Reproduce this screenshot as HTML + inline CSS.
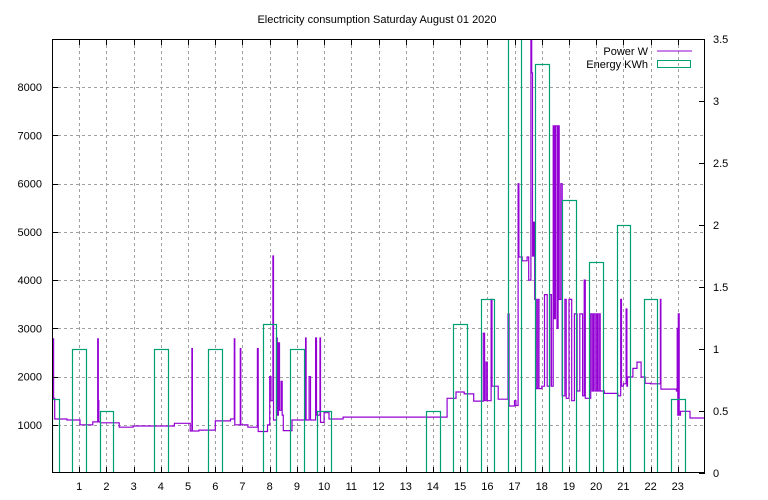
<!DOCTYPE html>
<html><head><meta charset="utf-8"><style>
html,body{margin:0;padding:0;background:#fff;}
svg{display:block;font-family:"Liberation Sans","DejaVu Sans",sans-serif;font-size:11px;}
</style></head><body>
<svg id="chart" width="768" height="500" viewBox="0 0 768 500" xmlns="http://www.w3.org/2000/svg">
<rect width="768" height="500" fill="#fff"/>
<text x="377" y="23" text-anchor="middle">Electricity consumption Saturday August 01 2020</text>
<g id="grid"></g>
<defs><clipPath id="plotclip"><rect x="52" y="39" width="653" height="434"/></clipPath></defs>
<g id="power" clip-path="url(#plotclip)"></g>
<g id="energy" clip-path="url(#plotclip)"></g>
<rect x="52.5" y="39.5" width="652" height="433" fill="none" stroke="#000" stroke-width="1"/>
<g id="axes"></g>
<g>
<text x="648" y="55" text-anchor="end">Power W</text>
<line x1="657" y1="51" x2="692" y2="51" stroke="#9400d3" stroke-width="1"/>
<text x="648" y="68" text-anchor="end">Energy KWh</text>
<rect x="657.5" y="60.5" width="33" height="7" fill="none" stroke="#009e73" stroke-width="1"/>
</g>
</svg>
<script>
const xTicks = [1,2,3,4,5,6,7,8,9,10,11,12,13,14,15,16,17,18,19,20,21,22,23];
const yTicks = [1000,2000,3000,4000,5000,6000,7000,8000];
const y2Ticks = [0,0.5,1,1.5,2,2.5,3,3.5];
const y2Labels = ["0","0.5","1","1.5","2","2.5","3","3.5"];
const energyHours = [0,1,2,4,6,8,9,10,14,15,16,17,18,19,20,21,22,23];
const energyKWh = [0.6,1.0,0.5,1.0,1.0,1.2,1.0,0.5,0.5,1.2,1.4,3.7,3.3,2.2,1.7,2.0,1.4,0.6];
const powerTimes = [
0,0.04,0.06,0.10,0.55,1.03,1.50,1.68,1.70,1.72,
1.78,2.47,2.98,4.50,5.08,5.14,5.16,5.40,6.00,6.56,
6.70,6.72,6.92,6.94,7.20,7.55,7.58,7.92,8.00,8.05,
8.12,8.14,8.25,8.28,8.32,8.36,8.42,8.46,8.50,8.82,
9.32,9.34,9.45,9.50,9.69,9.72,9.85,9.87,10.00,10.18,
10.70,14.52,14.85,15.15,15.50,15.85,15.90,15.95,16.00,16.14,
16.17,16.40,16.76,16.80,17.00,17.05,17.13,17.16,17.28,17.46,
17.52,17.60,17.63,17.66,17.70,17.74,17.80,17.85,17.90,18.00,
18.10,18.20,18.30,18.36,18.42,18.46,18.50,18.56,18.60,18.64,
18.70,18.75,18.85,18.90,19.00,19.10,19.20,19.30,19.40,19.50,
19.56,19.60,19.80,19.85,19.90,19.95,20.00,20.05,20.10,20.15,
20.30,20.80,20.90,20.93,21.00,21.10,21.13,21.15,21.35,21.50,
21.65,21.80,22.00,22.36,22.38,22.95,22.98,23.00,23.02,23.05,
23.10,23.45];
const powerWatts = [
1550,2780,1550,1120,1100,1000,1060,2780,1500,1060,
1040,950,975,1030,870,2580,870,890,1080,1120,
2780,1000,2580,1000,950,2580,860,1000,2000,1500,
4500,1100,2800,1200,2700,1300,1900,1200,880,1100,
2800,1100,2000,1100,2800,1200,2800,1050,1250,1120,
1160,1550,1680,1640,1490,2900,1500,2300,1500,3600,
1800,1530,3300,1390,1500,1400,6000,4480,4400,4480,
4000,9000,8300,4500,5200,3600,1750,3600,1750,1800,
3700,1800,3700,1800,7200,3200,7200,3000,7200,3600,
6000,1600,3600,1550,3600,1500,3300,1700,3300,1600,
4000,1550,3300,1700,3300,1700,3300,1700,3300,1700,
1650,1600,3600,1800,1850,3400,1800,1990,2170,2300,
1990,1860,1850,3600,1740,1700,3000,1200,3300,1200,
1280,1140];

const NS="http://www.w3.org/2000/svg";
const X0=52, X1=705, YB=473, YT=39;
const xs = h => X0 + h/24*(X1-X0);
const ys = w => YB - w/9000*(YB-YT);
const ys2 = e => YB - e/3.5*(YB-YT);
function mk(tag, attrs, parent){const e=document.createElementNS(NS,tag);for(const k in attrs)e.setAttribute(k,attrs[k]);parent.appendChild(e);return e;}
const grid=document.getElementById('grid'), axes=document.getElementById('axes');
xTicks.forEach(t=>{
  const x=Math.round(xs(t))+0.5;
  const g=mk('line',{x1:x,y1:YT,x2:x,y2:YB,stroke:'#a0a0a0','stroke-dasharray':'3,3'},grid);
  
  
  const tk=mk('line',{x1:x,y1:YB,x2:x,y2:YB-6,stroke:'#000'},axes);
  
  
  const tk2=mk('line',{x1:x,y1:YT,x2:x,y2:YT+6,stroke:'#000'},axes);
  
  
  const l=mk('text',{x:xs(t),y:490,'text-anchor':'middle'},axes);
  l.textContent=String(t);
  
  
});
yTicks.forEach(t=>{
  const y=Math.round(ys(t))+0.5;
  const g=mk('line',{x1:X0,y1:y,x2:X1,y2:y,stroke:'#a0a0a0','stroke-dasharray':'3,3'},grid);
  
  
  const tk=mk('line',{x1:X0,y1:y,x2:X0+6,y2:y,stroke:'#000'},axes);
  
  
  const l=mk('text',{x:42,y:ys(t)+4,'text-anchor':'end'},axes);
  l.textContent=String(t);
  
  
});
y2Ticks.forEach((t,i)=>{
  const y=Math.round(ys2(t))+0.5;
  const tk=mk('line',{x1:X1,y1:y,x2:X1-6,y2:y,stroke:'#000'},axes);
  
  
  const l=mk('text',{x:713,y:ys2(t)+4,'text-anchor':'start'},axes);
  l.textContent=y2Labels[i];
  
  
});
const n=Math.min(powerTimes.length,powerWatts.length);
let d='M'+xs(powerTimes[0]).toFixed(1)+','+ys(powerWatts[0]).toFixed(1);
for(let i=1;i<n;i++){
  d+=' H'+xs(powerTimes[i]).toFixed(1)+' V'+ys(powerWatts[i]).toFixed(1);
}
d+=' H'+xs(24).toFixed(1);
const pl=mk('path',{d:d,fill:'none',stroke:'#9400d3','stroke-width':1.2},document.getElementById('power'));


const eg=document.getElementById('energy');
energyHours.forEach((h,i)=>{
  const a=Math.max(0,h-0.25), b=Math.min(24,h+0.25);
  const x=Math.round(xs(a))+0.5, w=Math.round(xs(b))-Math.round(xs(a));
  const top=Math.round(ys2(energyKWh[i]))+0.5;
  const r=mk('rect',{x:x,y:top,width:w,height:YB+2-top,fill:'none',stroke:'#009e73','stroke-width':1.2},eg);
  
  
});
</script>
</body></html>
